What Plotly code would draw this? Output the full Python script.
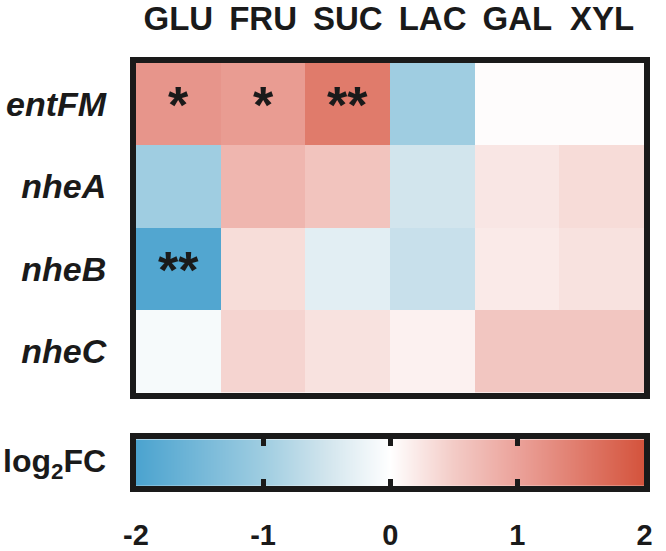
import plotly.graph_objects as go

# ---- data ----
sugars = ["GLU", "FRU", "SUC", "LAC", "GAL", "XYL"]
genes = ["entFM", "nheA", "nheB", "nheC"]
log2fc_entFM = [1.16, 1.08, 1.50, -1.00, 0.03, 0.03]
log2fc_nheA = [-1.00, 0.76, 0.59, -0.50, 0.24, 0.34]
log2fc_nheB = [-1.92, 0.33, -0.32, -0.60, 0.20, 0.28]
log2fc_nheC = [-0.10, 0.41, 0.28, 0.13, 0.56, 0.56]
sig_entFM = ["*", "*", "**", "", "", ""]
sig_nheA = ["", "", "", "", "", ""]
sig_nheB = ["**", "", "", "", "", ""]
sig_nheC = ["", "", "", "", "", ""]
cb_ticks = [-2, -1, 0, 1, 2]
cb_marks = [-1, 0, 1]

z = [log2fc_entFM, log2fc_nheA, log2fc_nheB, log2fc_nheC]
sig = [sig_entFM, sig_nheA, sig_nheB, sig_nheC]

colorscale = [
    [0.0, "#4ba3cf"],
    [0.25, "#9fcde1"],
    [0.375, "#d2e5ed"],
    [0.5, "#ffffff"],
    [0.625, "#f3cbc6"],
    [0.75, "#eba29a"],
    [1.0, "#d4533c"],
]

W, H = 666, 551
FONT = "Liberation Sans, Arial, sans-serif"
INK = "#1a1a1a"

fig = go.Figure()
fig.add_trace(go.Heatmap(
    z=z, x=sugars, y=genes, colorscale=colorscale, zmin=-2, zmax=2,
    showscale=False, xaxis="x", yaxis="y", hoverinfo="skip",
))
# colour-bar gradient, drawn from the tick values
fig.add_trace(go.Heatmap(
    z=[cb_ticks, cb_ticks], x=cb_ticks, y=[0, 1], colorscale=colorscale,
    zmin=-2, zmax=2, zsmooth="best", showscale=False,
    xaxis="x2", yaxis="y2", hoverinfo="skip",
))

for r, g in enumerate(genes):
    for c, s in enumerate(sugars):
        if sig[r][c]:
            fig.add_annotation(
                x=s, y=g, xref="x", yref="y", text=sig[r][c], showarrow=False,
                font=dict(family=FONT, size=52, color=INK, weight="bold"),
                yshift=-1,
            )

fig.add_annotation(
    x=98 / W, y=1 - 471 / H, xref="paper", yref="paper",
    xanchor="right", yanchor="middle", showarrow=False,
    text="log<sub>2</sub>FC",
    font=dict(family=FONT, size=32, color=INK, weight="bold"),
)

xdom = [127 / W, 652 / W]
fig.update_layout(
    width=W, height=H, margin=dict(l=0, r=0, t=0, b=0),
    paper_bgcolor="white", plot_bgcolor="white", showlegend=False,
    xaxis=dict(
        domain=xdom, side="top", anchor="y", showgrid=False, zeroline=False,
        showline=True, linewidth=6, linecolor=INK, mirror=True, ticks="",
        tickfont=dict(family=FONT, size=33, color=INK, weight="bold"),
        ticklabelstandoff=13, fixedrange=True,
    ),
    yaxis=dict(
        domain=[1 - 397 / H, 1 - 49 / H], anchor="x", autorange="reversed",
        showgrid=False, zeroline=False, showline=True, linewidth=6,
        linecolor=INK, mirror=True, ticks="",
        tickfont=dict(family=FONT, size=34, color=INK, weight="bold", style="italic"),
        ticklabelstandoff=17, fixedrange=True,
    ),
    xaxis2=dict(
        domain=xdom, anchor="y2", range=[-2, 2], showgrid=False, zeroline=False,
        showline=True, linewidth=6, linecolor=INK, mirror="allticks",
        tickvals=cb_ticks, ticktext=[str(v) for v in cb_ticks], ticks="",
        minor=dict(tickmode="array", tickvals=cb_marks, ticks="inside",
                   ticklen=7, tickwidth=5, tickcolor=INK),
        tickfont=dict(family=FONT, size=29, color=INK, weight="bold"),
        ticklabelstandoff=18, fixedrange=True,
    ),
    yaxis2=dict(
        domain=[1 - 495 / H, 1 - 446 / H], anchor="x2", range=[0, 1],
        showgrid=False, zeroline=False, showline=True, linewidth=6,
        linecolor=INK, mirror=True, ticks="", showticklabels=False,
        fixedrange=True,
    ),
)

fig.write_html("out.html")
